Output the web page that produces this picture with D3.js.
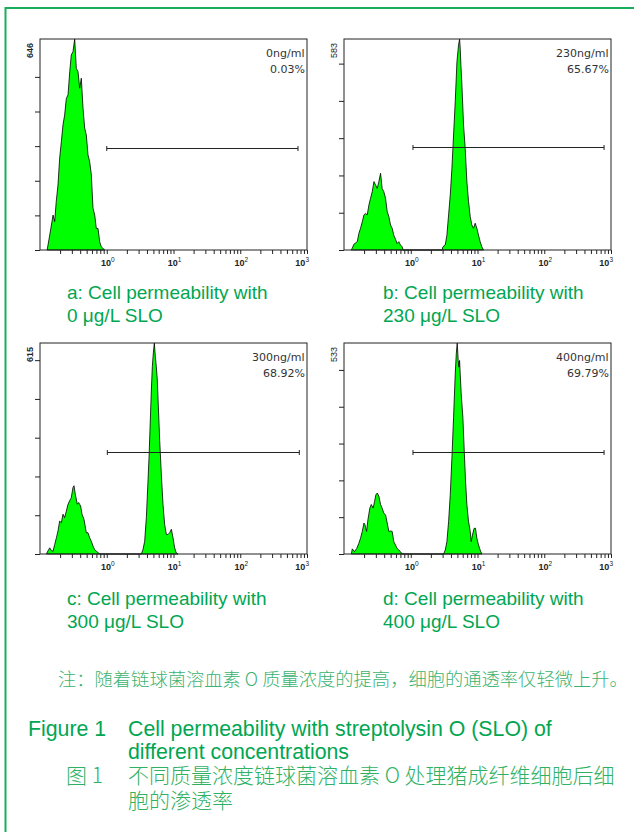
<!DOCTYPE html>
<html>
<head>
<meta charset="utf-8">
<script src="https://cdn.jsdelivr.net/npm/d3@7"></script>
<style>
  body { margin: 0; background: #fff; }
  svg { display: block; }
</style>
</head>
<body>
<div id="chart"></div>
<script>
// ---- data ----
const doses = ['0ng/ml', '230ng/ml', '300ng/ml', '400ng/ml'];
const positive = ['0.03%', '65.67%', '68.92%', '69.79%'];
const yMax = [646, 583, 615, 533];
const yTicks = [
  [0, 106, 212, 318, 424, 530],
  [0, 103, 206, 309, 412, 515],
  [0, 113, 226, 339, 452, 565],
  [0, 93, 186, 279, 372, 465]
];
const xMajor = [1, 10, 100, 1000];
const xMinor = [0.2, 0.3, 0.4, 0.5, 0.6, 0.7, 0.8, 0.9, 2, 3, 4, 5, 6, 7, 8, 9,
                20, 30, 40, 50, 60, 70, 80, 90, 200, 300, 400, 500, 600, 700, 800, 900];
const gateRange = [[1, 733], [1.08, 787], [1.02, 767], [1.08, 787]];
const gateLevel = [311, 284, 297, 258];
const captionLine1 = ['a: Cell permeability with', 'b: Cell permeability with',
                      'c: Cell permeability with', 'd: Cell permeability with'];
const captionLine2 = ['0 μg/L SLO', '230 μg/L SLO', '300 μg/L SLO', '400 μg/L SLO'];

// histograms: [fluorescence, count]
const histA = [[0.128,0],[0.140,46],[0.157,107],[0.166,87],[0.175,148],[0.186,199],[0.197,281],[0.209,332],
  [0.221,383],[0.234,413],[0.248,464],[0.263,475],[0.279,546],[0.294,597],[0.312,607],[0.331,646],[0.350,556],
  [0.371,546],[0.393,495],[0.416,526],[0.441,434],[0.467,373],[0.494,352],[0.524,291],[0.555,270],[0.588,230],
  [0.622,128],[0.660,107],[0.698,66],[0.740,66],[0.784,25],[0.828,10],[0.93,0]];
const histB = [[0.128,0],[0.133,5],[0.141,16],[0.158,23],[0.167,46],[0.177,60],[0.188,78],[0.199,97],[0.211,101],
  [0.223,97],[0.236,124],[0.250,143],[0.265,161],[0.281,189],[0.297,180],[0.315,170],[0.333,189],[0.353,212],
  [0.373,170],[0.395,161],[0.419,143],[0.444,106],[0.470,92],[0.498,69],[0.527,60],[0.557,41],[0.590,30],
  [0.625,18],[0.662,23],[0.701,14],[0.743,9],[0.769,0],
  [2.94,0],[3.04,9],[3.29,14],[3.48,41],[3.69,97],[3.91,152],[4.14,226],[4.38,318],[4.64,410],[4.92,520],
  [5.20,566],[5.39,583],[5.51,557],[5.64,511],[5.84,456],[6.18,345],[6.54,281],[6.93,189],[7.34,134],[7.78,92],
  [8.23,69],[8.71,60],[9.23,74],[9.78,60],[10.35,41],[10.96,23],[11.61,9],[12.30,0]];
const histC = [[0.125,0],[0.129,6],[0.140,18],[0.148,10],[0.157,8],[0.166,28],[0.176,47],[0.186,67],[0.197,96],
  [0.209,91],[0.221,116],[0.234,106],[0.248,125],[0.263,145],[0.278,155],[0.294,164],[0.312,194],[0.323,199],
  [0.338,174],[0.362,145],[0.379,150],[0.406,140],[0.426,116],[0.456,101],[0.494,62],[0.524,62],[0.555,47],
  [0.588,37],[0.622,23],[0.659,13],[0.698,8],[0.757,3],[0.783,0],
  [3.30,0],[3.49,13],[3.70,37],[3.92,106],[4.15,213],[4.30,282],[4.44,360],[4.66,478],[4.82,546],[4.99,586],
  [5.16,615],[5.34,576],[5.53,546],[5.72,507],[5.93,429],[6.21,331],[6.57,233],[6.96,145],[7.37,86],[7.81,57],
  [8.27,57],[8.76,62],[9.29,72],[9.84,47],[10.4,18],[11.0,3],[11.7,0]];
const histD = [[0.129,0],[0.133,13],[0.144,6],[0.155,14],[0.167,27],[0.177,40],[0.188,57],[0.199,78],[0.206,74],
  [0.218,57],[0.228,86],[0.244,116],[0.256,125],[0.274,116],[0.287,133],[0.301,150],[0.315,154],[0.333,146],
  [0.353,125],[0.373,116],[0.395,103],[0.419,99],[0.444,78],[0.470,57],[0.498,58],[0.527,57],[0.557,31],
  [0.590,23],[0.625,14],[0.662,10],[0.701,6],[0.743,0],
  [3.11,0],[3.29,10],[3.48,31],[3.69,82],[3.91,150],[4.14,243],[4.38,345],[4.64,455],[4.81,506],[4.97,533],
  [5.14,489],[5.26,472],[5.39,489],[5.51,455],[5.70,404],[6.04,345],[6.33,260],[6.62,184],[6.93,125],[7.34,82],
  [7.78,57],[8.04,31],[8.41,48],[8.91,65],[9.33,65],[9.78,40],[10.35,23],[10.96,10],[11.61,0]];
const hists = [histA, histB, histC, histD];

// ---- layout ----
const w = 634, h = 832;
const green = '#00a651';
const sans = '"Liberation Sans", Arial, sans-serif';
const dv = '"DejaVu Sans", sans-serif';
const cjk = '"Noto Sans CJK SC", sans-serif';
const pw = 267, ph = 211;
const panelX = [40, 344, 40, 344];
const panelY = [39, 39, 343, 343];
const capX = [67, 383, 67, 383];
const capY = [299, 299, 605, 605];

const svg = d3.select('#chart').append('svg').attr('width', w).attr('height', h);

// green frame of the figure (top + left)
svg.append('path')
   .attr('d', `M${w},8 H5.5 V${h}`)
   .attr('fill', 'none')
   .attr('stroke', '#1aad5c')
   .attr('stroke-width', 2);

const x = d3.scaleLog().domain([0.1, 1000]).range([0, pw]);

hists.forEach((hist, i) => {
    const g = svg.append('g').attr('transform', `translate(${panelX[i]},${panelY[i]})`);
    const y = d3.scaleLinear().domain([0, yMax[i]]).range([ph, 0]);

    const area = d3.area()
                   .x(d => x(d[0]))
                   .y0(ph)
                   .y1(d => y(d[1]));

    g.append('path')
     .datum(hist)
     .attr('d', area)
     .attr('fill', '#00ff00')
     .attr('stroke', '#000')
     .attr('stroke-width', 0.8);

    g.append('rect')
     .attr('width', pw)
     .attr('height', ph)
     .attr('fill', 'none')
     .attr('stroke', '#222')
     .attr('stroke-width', 1);

    const xAxis = g.append('g')
                   .attr('transform', `translate(0,${ph})`)
                   .call(d3.axisBottom(x).tickValues(xMinor.concat(xMajor)).tickSize(4).tickFormat(''));
    xAxis.select('.domain').remove();
    xAxis.selectAll('line').attr('stroke', '#222');

    const yAxis = g.append('g')
                   .call(d3.axisLeft(y).tickValues(yTicks[i]).tickSize(5).tickFormat(''));
    yAxis.select('.domain').remove();
    yAxis.selectAll('line').attr('stroke', '#222');

    // decade labels 10^n
    xMajor.forEach((v, k) => {
        const last = k === xMajor.length - 1;
        const t = g.append('text')
                   .attr('x', last ? x(v) + 2 : x(v) + 1)
                   .attr('y', ph + 16)
                   .attr('text-anchor', last ? 'end' : 'middle')
                   .attr('font-family', sans)
                   .attr('font-size', 9)
                   .attr('font-weight', 'bold')
                   .attr('fill', '#222');
        t.append('tspan').text('10');
        t.append('tspan').attr('dy', -4).attr('font-size', 6.5).attr('font-weight', 'normal')
         .text(Math.round(Math.log10(v)));
    });

    // max count, rotated
    g.append('text')
     .attr('transform', `translate(-6.8,4) rotate(-90)`)
     .attr('text-anchor', 'end')
     .attr('font-family', sans)
     .attr('font-size', 9)
     .attr('font-weight', i % 2 === 0 ? 'bold' : 'normal')
     .attr('fill', '#222')
     .text(yMax[i]);

    g.append('text')
     .attr('x', pw - 2.5).attr('y', 17.7)
     .attr('text-anchor', 'end')
     .attr('font-family', dv).attr('font-size', 11)
     .attr('fill', '#333')
     .text(doses[i]);
    g.append('text')
     .attr('x', pw - 2).attr('y', 33.7)
     .attr('text-anchor', 'end')
     .attr('font-family', dv).attr('font-size', 11)
     .attr('fill', '#333')
     .text(positive[i]);

    // marker / gate
    const gy = Math.round(y(gateLevel[i])) + 0.5;
    const gx0 = x(gateRange[i][0]), gx1 = x(gateRange[i][1]);
    g.append('line').attr('x1', gx0).attr('x2', gx1).attr('y1', gy).attr('y2', gy)
     .attr('stroke', '#222').attr('stroke-width', 1);
    [gx0, gx1].forEach(gx => {
        g.append('line').attr('x1', gx).attr('x2', gx).attr('y1', gy - 2.5).attr('y2', gy + 2.5)
         .attr('stroke', '#222').attr('stroke-width', 1);
    });

    // caption under the panel
    svg.append('text')
       .attr('x', capX[i]).attr('y', capY[i])
       .attr('font-family', sans).attr('font-size', 19)
       .attr('fill', green)
       .text(captionLine1[i]);
    svg.append('text')
       .attr('x', capX[i]).attr('y', capY[i] + 23)
       .attr('font-family', sans).attr('font-size', 19)
       .attr('fill', green)
       .text(captionLine2[i]);
});

// note and figure title
svg.append('text')
   .attr('x', 58).attr('y', 686)
   .attr('font-family', cjk).attr('font-size', 18.3).attr('font-weight', 300)
   .attr('fill', '#3cb371')
   .text('注：随着链球菌溶血素 O 质量浓度的提高，细胞的通透率仅轻微上升。');

svg.append('text')
   .attr('x', 28).attr('y', 736)
   .attr('font-family', sans).attr('font-size', 21.3)
   .attr('fill', green)
   .text('Figure 1');
svg.append('text')
   .attr('x', 128).attr('y', 736)
   .attr('font-family', sans).attr('font-size', 21.3)
   .attr('fill', green)
   .text('Cell permeability with streptolysin O (SLO) of');
svg.append('text')
   .attr('x', 128).attr('y', 759)
   .attr('font-family', sans).attr('font-size', 21.3)
   .attr('fill', green)
   .text('different concentrations');

svg.append('text')
   .attr('x', 66).attr('y', 783)
   .attr('font-family', cjk).attr('font-size', 21).attr('font-weight', 300)
   .attr('fill', '#2fb163')
   .text('图 1');
svg.append('text')
   .attr('x', 128).attr('y', 783)
   .attr('font-family', cjk).attr('font-size', 21).attr('font-weight', 300)
   .attr('fill', '#2fb163')
   .text('不同质量浓度链球菌溶血素 O 处理猪成纤维细胞后细');
svg.append('text')
   .attr('x', 128).attr('y', 808)
   .attr('font-family', cjk).attr('font-size', 21).attr('font-weight', 300)
   .attr('fill', '#2fb163')
   .text('胞的渗透率');
</script>
</body>
</html>
